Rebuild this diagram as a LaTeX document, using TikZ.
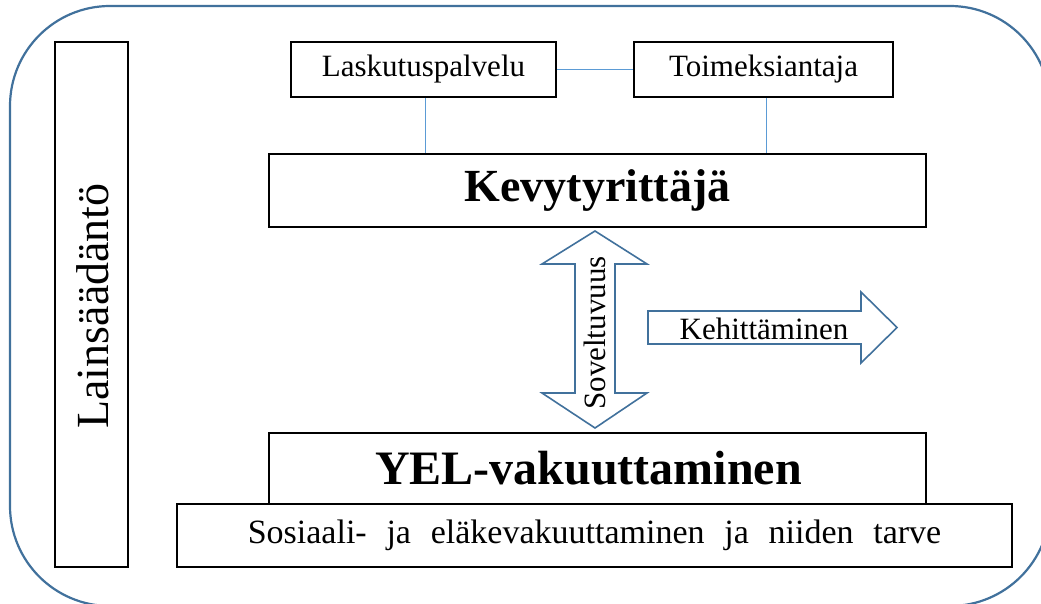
\documentclass[tikz,border=0pt]{standalone}
\usepackage{fontspec}
\setmainfont{Liberation Serif}
\definecolor{frameblue}{HTML}{41719C}
\definecolor{linkblue}{HTML}{5B9BD5}
\begin{document}
\begin{tikzpicture}[x=1pt,y=-1pt,
  box/.style={draw=black, line width=1.6pt, fill=white, inner sep=0pt, anchor=center},
  small/.style={font=\fontsize{31}{37}\selectfont},
  link/.style={draw=linkblue, line width=0.9pt},
  bigarrow/.style={draw=frameblue, line width=1.6pt, fill=white, line join=miter}]
\useasboundingbox (0,0) rectangle (1041,604);
\fill[white] (0,0) rectangle (1041,604);
\draw[frameblue, line width=2.2pt, rounded corners=100pt] (10,6) rectangle (1050,606);

\node[box, minimum width=73pt, minimum height=525pt] (lains) at (91.5,304.5) {};
\node[rotate=90, font=\fontsize{46}{55}\selectfont] (lainstext) at (93,306) {Lainsäädäntö};

\node[box, small, minimum width=265pt, minimum height=55pt] (lask) at (423.5,69.5) {Laskutuspalvelu};
\node[box, small, minimum width=259pt, minimum height=55pt] (toim) at (763.5,69.5) {Toimeksiantaja};
\node[box, font=\fontsize{46}{55}\selectfont\bfseries, minimum width=657pt, minimum height=73pt] (kevy) at (597.5,190.5) {Kevytyrittäjä};
\node[box, font=\fontsize{48}{58}\selectfont\bfseries, minimum width=657pt, minimum height=71pt] (yel) at (597.5,468.5) {YEL-vakuuttaminen\hspace*{18pt}};
\node[box, font=\fontsize{34}{41}\selectfont, minimum width=835pt, minimum height=63pt] (sos) at (594.5,535.5) {Sosiaali-\hspace{0.58em}ja\hspace{0.58em}eläkevakuuttaminen\hspace{0.58em}ja\hspace{0.58em}niiden\hspace{0.58em}tarve};

\draw[link] (lask.east) -- (toim.west);
\draw[link] (lask.south) ++(1.5,0) coordinate (lasks) -- (lasks |- kevy.north);
\draw[link] (toim.south) ++(2.5,0) coordinate (toims) -- (toims |- kevy.north);

\draw[bigarrow] (595,231) -- (647,264) -- (615,264) -- (615,393) -- (647,393) -- (595,428)
  -- (542,393) -- (575,393) -- (575,264) -- (542,264) -- cycle;
\node[rotate=90, small] (sov) at (595,333) {Soveltuvuus};

\draw[bigarrow] (648,311) -- (861,311) -- (861,292) -- (897,327.5) -- (861,363) -- (861,344) -- (648,344) -- cycle;
\node[small] (keh) at (764,329) {Kehittäminen};
\end{tikzpicture}
\end{document}
